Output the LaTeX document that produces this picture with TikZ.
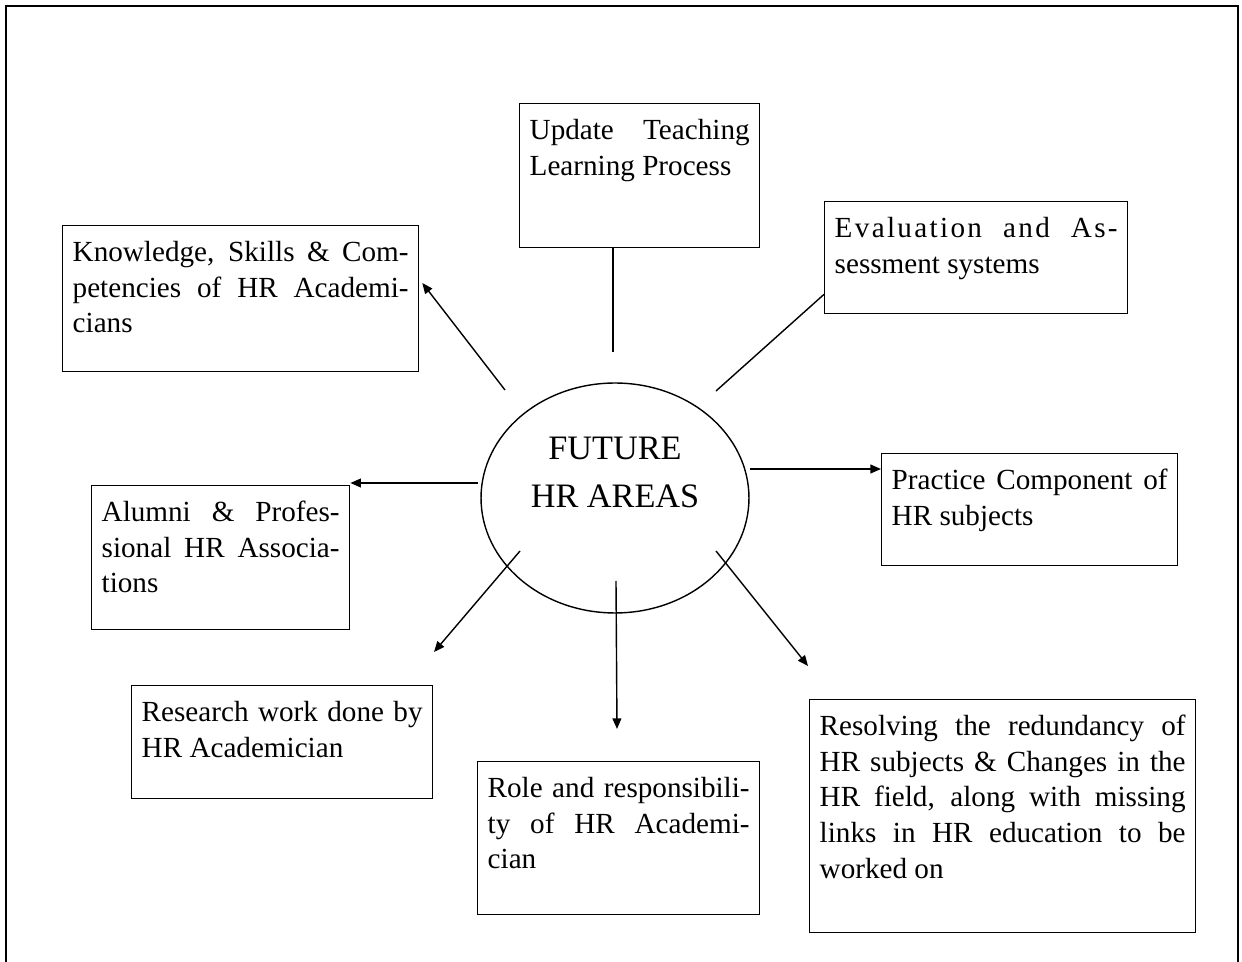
\documentclass[tikz,border=0pt]{standalone}
\usepackage{fontspec}
\setmainfont{Liberation Serif}
\usetikzlibrary{shapes, arrows.meta, calc}
\newcommand{\jl}[1]{\makebox[\linewidth][s]{#1}}

\begin{document}
\begin{tikzpicture}[x=0.02cm, y=-0.02cm, line width=0.8pt,
    area/.style={draw, anchor=north west, inner xsep=0.2cm, inner ysep=0.22cm, font=\fontsize{16.6}{20.3}\selectfont},
    >={Triangle[length=6pt, width=5pt]}]
            \useasboundingbox (0,0) rectangle (1242,962);
            \draw (6,962) -- (6,6) -- (1238,6) -- (1238,962);

            % centre
            \node[ellipse, draw, minimum width=5.36cm, minimum height=4.6cm, inner sep=0pt] (hr) at (615,498) {};
            \node[align=center, font=\fontsize{19.5}{27.3}\selectfont] (hrtext) at (615,472) {FUTURE\\HR AREAS};

            % boxes
            \node[area] (teach) at (519,103) {\parbox[c][2.44cm][t]{4.4cm}{\strut\jl{Update Teaching}\\Learning Process}};
            \node[area] (know) at (62,225) {\parbox[c][2.48cm][t]{6.72cm}{\strut\jl{Knowledge, Skills \& Com-}\\\jl{petencies of HR Academi-}\\cians}};
            \node[area] (eval) at (824,201) {\parbox[c][1.8cm][t]{5.66cm}{\strut\jl{\addfontfeature{LetterSpace=8}Evaluation and As-}\\sessment systems}};
            \node[area] (prac) at (881,453) {\parbox[c][1.8cm][t]{5.52cm}{\strut\jl{Practice Component of}\\HR subjects}};
            \node[area] (alum) at (91,485) {\parbox[c][2.44cm][t]{4.76cm}{\strut\jl{Alumni \& Profes-}\\\jl{sional HR Associa-}\\tions}};
            \node[area] (res) at (131,685) {\parbox[c][1.82cm][t]{5.62cm}{\strut\jl{Research work done by}\\HR Academician}};
            \node[area] (role) at (477,761) {\parbox[c][2.62cm][t]{5.24cm}{\strut\jl{Role and responsibili-}\\\jl{ty of HR Academi-}\\cian}};
            \node[area] (resol) at (809,699) {\parbox[c][4.22cm][t]{7.32cm}{\strut\jl{Resolving the redundancy of}\\\jl{HR subjects \& Changes in the}\\\jl{HR field, along with missing}\\\jl{links in HR education to be}\\worked on}};

            % line ends
            \coordinate (s1) at (613,352);
            \coordinate (s2) at (716,391);
            \coordinate (s3) at (505,390);
            \coordinate (s4) at (750,469);
            \coordinate (s5) at (478,483);
            \coordinate (s6) at (520,551);
            \coordinate (s7) at (616,581);
            \coordinate (s8) at (716,551);
            \coordinate (e6) at (434,652);
            \coordinate (e7) at (617,729);
            \coordinate (e8) at (808,666);

            \draw (s1) -- (s1 |- teach.south);
            \draw (s2) -- ($(eval.south west)+(0,-20)$);
            \draw[->] (s3) -- ($(know.north east)+(3,58)$);
            \draw[->] (s4) -- (s4 -| prac.west);
            \draw[->] (s5) -- (s5 -| alum.east);
            \draw[->] (s6) -- (e6);
            \draw[->] (s7) -- (e7);
            \draw[->] (s8) -- (e8);
        \end{tikzpicture}
\end{document}
